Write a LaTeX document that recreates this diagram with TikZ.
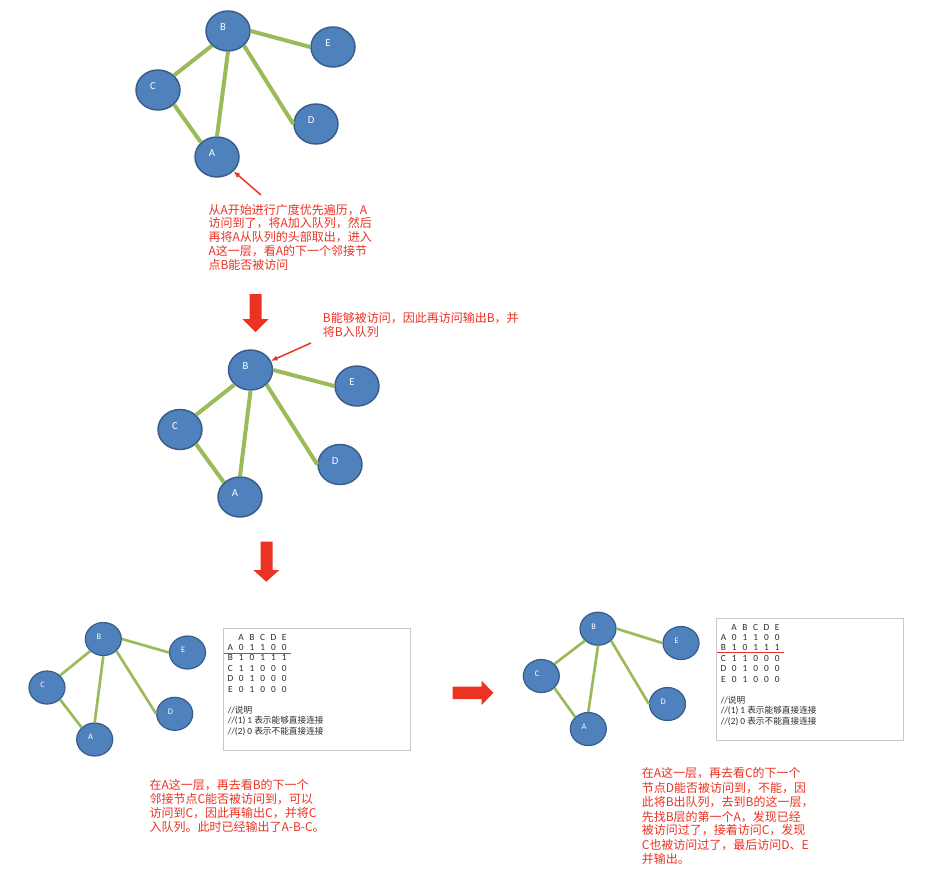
\documentclass[tikz,border=0pt]{standalone}
\usepackage{fontspec}
\setmainfont{Carlito}
\newfontfamily\cjk{Noto Sans CJK SC}
\newfontfamily\lat{Carlito}
\usetikzlibrary{shapes.geometric,arrows.meta}

\definecolor{nodefill}{HTML}{4F81BD}
\definecolor{nodeline}{HTML}{385D8A}
\definecolor{edgegreen}{HTML}{9BBB59}
\definecolor{notered}{RGB}{234,51,35}
\definecolor{gridtext}{HTML}{2B2B2B}
\definecolor{boxline}{HTML}{C8C8C8}

\tikzset{
  vbig/.style={ellipse, draw=nodeline, line width=1.1pt, fill=nodefill,
    minimum width=33pt, minimum height=30pt, inner sep=0pt,
    label={[text=white, font=\lat\fontsize{8}{9}\selectfont,
            xshift=-3.7pt, yshift=2.6pt]center:#1}},
  vsmall/.style={ellipse, draw=nodeline, line width=0.9pt, fill=nodefill,
    minimum width=27pt, minimum height=24.75pt, inner sep=0pt,
    label={[text=white, font=\lat\fontsize{6.3}{7}\selectfont,
            xshift=-3.2pt, yshift=1.7pt]center:#1}},
  linkbig/.style={draw=edgegreen, line width=3pt},
  linksmall/.style={draw=edgegreen, line width=2pt},
  pointer/.style={draw=notered, line width=1.1pt, -{Latex[length=5pt,width=4pt]}},
  note/.style={anchor=west, inner sep=0pt, text=notered,
    font=\cjk\fontsize{9}{10.5}\selectfont},
  blockarrow/.style={fill=notered, draw=none},
  gridbox/.style={draw=boxline, line width=0.75pt, fill=white, anchor=north west,
    minimum width=140.25pt, minimum height=91.5pt, inner sep=0pt},
  cell/.style={anchor=west, inner sep=0pt, text=gridtext,
    font=\lat\fontsize{7}{8}\selectfont},
  markline/.style={draw=notered, line width=1.1pt},
}

% one column of the adjacency table
\newcommand\gc[1]{\makebox[8.06pt]{#1}}

% adjacency table box: #1,#2 top-left corner, #3 name prefix, #4 height of the marker line
\newcommand\adjgrid[4]{%
  \begin{scope}[shift={(#1,#2)}]
    \node[gridbox] (#3box) at (0,0) {};
    \node[cell] (#3hd) at (1.8,9)    {\gc{}\gc{A}\gc{B}\gc{C}\gc{D}\gc{E}};
    \node[cell] (#3ra) at (1.8,19.4) {\gc{A}\gc{0}\gc{1}\gc{1}\gc{0}\gc{0}};
    \node[cell] (#3rb) at (1.8,29.8) {\gc{B}\gc{1}\gc{0}\gc{1}\gc{1}\gc{1}};
    \node[cell] (#3rc) at (1.8,40.2) {\gc{C}\gc{1}\gc{1}\gc{0}\gc{0}\gc{0}};
    \node[cell] (#3rd) at (1.8,50.6) {\gc{D}\gc{0}\gc{1}\gc{0}\gc{0}\gc{0}};
    \node[cell] (#3re) at (1.8,61)   {\gc{E}\gc{0}\gc{1}\gc{0}\gc{0}\gc{0}};
    \node[cell] (#3n0) at (4.5,82)   {//{\cjk\fontsize{6.5}{7}\selectfont 说明}};
    \node[cell] (#3n1) at (4.5,92.7) {//(1) 1 {\cjk\fontsize{6.5}{7}\selectfont 表示能够直接连接}};
    \node[cell] (#3n2) at (4.5,103.3){//(2) 0 {\cjk\fontsize{6.5}{7}\selectfont 表示不能直接连接}};
    \draw[markline] (1,#4) -- (68,#4);
  \end{scope}}

\begin{document}
\begin{tikzpicture}[x=0.75pt, y=-0.75pt]
  \useasboundingbox (0,0) rectangle (938,890);
  \fill[white] (0,0) rectangle (938,890);

  % ---- first graph ----
  \node[vbig=B] (B1) at (228,31)  {};
  \node[vbig=E] (E1) at (333,47)  {};
  \node[vbig=C] (C1) at (158,90)  {};
  \node[vbig=D] (D1) at (316,124) {};
  \node[vbig=A] (A1) at (217,157) {};
  \draw[linkbig] (B1.east) -- (E1.west);
  \draw[linkbig] (B1.south west) -- (C1.north east);
  \draw[linkbig] (B1.south) -- (A1.north);
  \draw[linkbig] (B1.south east) -- (D1.west);
  \draw[linkbig] (C1.south east) -- (A1.north west);

  \coordinate (p1) at (261,195);
  \draw[pointer] (p1) -- (A1);

  \node[note] (s1a) at (208.3,210.5) {从A开始进行广度优先遍历，A};
  \node[note] (s1b) at (208.3,223.5) {访问到了，将A加入队列，然后};
  \node[note] (s1c) at (208.3,237)   {再将A从队列的头部取出，进入};
  \node[note] (s1d) at (208.3,251)   {A这一层，看A的下一个邻接节};
  \node[note] (s1e) at (208.3,265)   {点B能否被访问};

  \fill[blockarrow] (249.5,294) -- (261.5,294) -- (261.5,319) -- (268.5,319)
    -- (255.5,332) -- (242.5,319) -- (249.5,319) -- cycle;

  % ---- second graph ----
  \node[note] (s2a) at (322.7,318.3) {B能够被访问，因此再访问输出B，并};
  \node[note] (s2b) at (322.7,331.7) {将B入队列};

  \node[vbig=B] (B2) at (250.5,370) {};
  \node[vbig=E] (E2) at (357,386)   {};
  \node[vbig=C] (C2) at (180,429.5) {};
  \node[vbig=D] (D2) at (340,464.5) {};
  \node[vbig=A] (A2) at (240,497)   {};
  \draw[linkbig] (B2.east) -- (E2.west);
  \draw[linkbig] (B2.south west) -- (C2.north east);
  \draw[linkbig] (B2.south) -- (A2.north);
  \draw[linkbig] (B2.south east) -- (D2.west);
  \draw[linkbig] (C2.south east) -- (A2.north west);

  \coordinate (p2) at (311,343);
  \draw[pointer] (p2) -- (B2);

  \fill[blockarrow] (260.7,541.7) -- (272.7,541.7) -- (272.7,570) -- (279.3,570)
    -- (266.3,581.7) -- (253.3,570) -- (260.7,570) -- cycle;

  % ---- third graph ----
  \node[vsmall=B] (B3) at (103.3,639)  {};
  \node[vsmall=E] (E3) at (187.5,652.5){};
  \node[vsmall=C] (C3) at (47,687.5)   {};
  \node[vsmall=D] (D3) at (174.7,713.8){};
  \node[vsmall=A] (A3) at (94.7,739.5) {};
  \draw[linksmall] (B3.east) -- (E3.west);
  \draw[linksmall] (B3.south west) -- (C3.north east);
  \draw[linksmall] (B3.south) -- (A3.north);
  \draw[linksmall] (B3.south east) -- (D3.west);
  \draw[linksmall] (C3.south east) -- (A3.north west);

  \adjgrid{223}{628}{ga}{25.3}

  \node[note] (s3a) at (149.3,785)   {在A这一层，再去看B的下一个};
  \node[note] (s3b) at (149.3,799.3) {邻接节点C能否被访问到，可以};
  \node[note] (s3c) at (149.3,813.3) {访问到C，因此再输出C，并将C};
  \node[note] (s3d) at (149.3,827.3) {入队列。此时已经输出了A-B-C。};

  \fill[blockarrow] (452.7,686.7) -- (481.7,686.7) -- (481.7,680.7) -- (493.3,692.8)
    -- (481.7,705) -- (481.7,699) -- (452.7,699) -- cycle;

  % ---- fourth graph ----
  \node[vsmall=B] (B4) at (598,628.7)  {};
  \node[vsmall=E] (E4) at (681,643)    {};
  \node[vsmall=C] (C4) at (541.3,676)  {};
  \node[vsmall=D] (D4) at (667.5,704)  {};
  \node[vsmall=A] (A4) at (588.3,729)  {};
  \draw[linksmall] (B4.east) -- (E4.west);
  \draw[linksmall] (B4.south west) -- (C4.north east);
  \draw[linksmall] (B4.south) -- (A4.north);
  \draw[linksmall] (B4.south east) -- (D4.west);
  \draw[linksmall] (C4.south east) -- (A4.north west);

  \adjgrid{716}{618}{gb}{34.5}

  \node[note] (s4a) at (641.5,773.3) {在A这一层，再去看C的下一个};
  \node[note] (s4b) at (641.5,788)   {节点D能否被访问到，不能，因};
  \node[note] (s4c) at (641.5,802.5) {此将B出队列，去到B的这一层，};
  \node[note] (s4d) at (641.5,816.7) {先找B层的第一个A，发现已经};
  \node[note] (s4e) at (641.5,830)   {被访问过了，接着访问C，发现};
  \node[note] (s4f) at (641.5,845)   {C也被访问过了，最后访问D、E};
  \node[note] (s4g) at (641.5,859)   {并输出。};
\end{tikzpicture}
\end{document}
